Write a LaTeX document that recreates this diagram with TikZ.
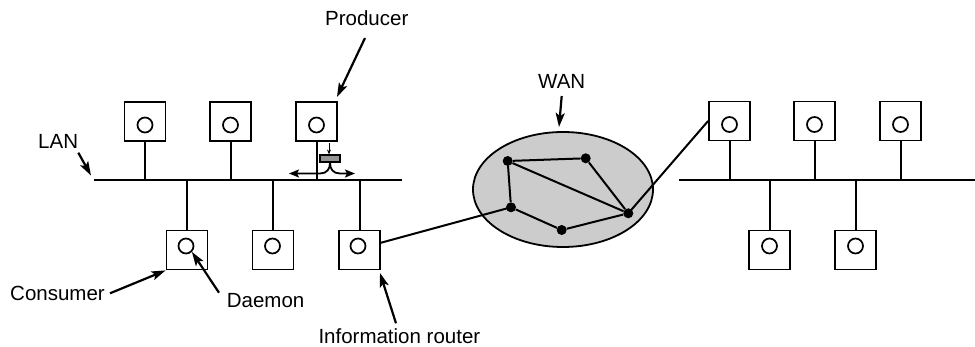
\documentclass[tikz,border=0pt]{standalone}
\usepackage{fontspec}
\setmainfont{Liberation Sans}
\usetikzlibrary{arrows.meta,shapes.geometric}
\begin{document}
\begin{tikzpicture}[x=1pt,y=-1pt,
  host/.style={draw,line width=1.8pt,minimum width=41pt,minimum height=39pt,inner sep=0pt},
  daemon/.style={draw,circle,line width=1.7pt,minimum size=15pt,inner sep=0pt},
  wire/.style={line width=2pt},
  lbl/.style={font=\fontsize{20.5}{24}\selectfont,inner sep=0pt},
  ptr/.style={line width=2.2pt,-{Stealth[length=14pt,width=9pt,inset=3pt]}},
  smallptr/.style={line width=1.8pt,-{Stealth[length=10pt,width=8pt,inset=2pt]}},
  dot/.style={circle,fill=black,minimum size=10pt,inner sep=0pt},
  msg/.style={draw,line width=1.2pt,fill=gray!85!white,minimum width=20pt,minimum height=7pt,inner sep=0pt},
  cloud/.style={ellipse,draw,line width=1.8pt,fill=gray!40,minimum width=180pt,minimum height=115pt,inner sep=0pt}
]
\useasboundingbox (0,0) rectangle (975,347);

% ---------- left LAN ----------
\coordinate (lanLa) at (94,180.5);
\coordinate (lanLb) at (402,180.5);
\draw[wire] (lanLa) -- (lanLb);

\node[host] (p1) at (145,121.5) {};
\node[host] (p2) at (230.5,121.5) {};
\node[host] (p3) at (316.5,121.5) {};
\node[host] (c1) at (187,250) {};
\node[host] (c2) at (273,250) {};
\node[host] (r3) at (359.5,250) {};

\node[daemon] (dp1) at (145,125) {};
\node[daemon] (dp2) at (230.5,125) {};
\node[daemon] (dp3) at (316.5,125) {};
\node[daemon] (dc1) at (186,246) {};
\node[daemon] (dc2) at (272.5,246) {};
\node[daemon] (dr3) at (358,246) {};

\foreach \n in {p1,p2,p3} \draw[wire] (\n.south) -- (\n.south |- lanLa);
\foreach \n in {c1,c2,r3} \draw[wire] (\n.north) -- (\n.north |- lanLa);

% producer message
\node[msg] (g) at (330,158.6) {};
\coordinate (gsrc) at (329,143);
\draw[line width=1pt,-{Stealth[length=5pt,width=4pt]}] (gsrc) -- (g.north -| gsrc);
\coordinate (gl) at (289,173.5);
\coordinate (gr) at (355,173.5);
\draw[smallptr] (g.south) .. controls (330,169) and (327,173.5) .. (320,173.5) -- (gl);
\draw[smallptr] (g.south) .. controls (330,169) and (333,173.5) .. (340,173.5) -- (gr);

% ---------- right LAN ----------
\coordinate (lanRa) at (679,180.5);
\coordinate (lanRb) at (975,180.5);
\draw[wire] (lanRa) -- (lanRb);

\node[host] (q1) at (729.5,121) {};
\node[host] (q2) at (814.5,121) {};
\node[host] (q3) at (900.5,121) {};
\node[host] (s1) at (769.5,250) {};
\node[host] (s2) at (855.5,250) {};

\node[daemon] (dq1) at (729.5,124.5) {};
\node[daemon] (dq2) at (814.5,124.5) {};
\node[daemon] (dq3) at (900.5,124.5) {};
\node[daemon] (ds1) at (769.5,246) {};
\node[daemon] (ds2) at (855.5,246) {};

\foreach \n in {q1,q2,q3} \draw[wire] (\n.south) -- (\n.south |- lanRa);
\foreach \n in {s1,s2} \draw[wire] (\n.north) -- (\n.north |- lanRa);

% ---------- WAN ----------
\node[cloud] (wan) at (563,189.5) {};
\node[dot] (wa) at (507.7,161) {};
\node[dot] (wb) at (585.7,158.3) {};
\node[dot] (wc) at (511,207.3) {};
\node[dot] (wd) at (561.7,230) {};
\node[dot] (we) at (628.3,213.3) {};
\draw[wire] (wa) -- (wb) -- (we) -- (wa) -- (wc) -- (wd) -- (we);

\coordinate (r3in) at (380,243);
\draw[wire] (wc.center) -- (r3in);
\draw[wire] (we.center) -- (q1.west);

% ---------- labels ----------
\node[lbl,anchor=base west] (prod) at (325,26) {Producer};
\coordinate (prodtail) at (365,38);
\coordinate (prodtip) at (337,97);
\draw[ptr] (prodtail) -- (prodtip);

\node[lbl,anchor=base west] (wanl) at (538,88.3) {WAN};
\coordinate (wantail) at (561.7,96);
\coordinate (wantip) at (559,127);
\draw[ptr] (wantail) -- (wantip);

\node[lbl,anchor=base west] (lanl) at (38,148.3) {LAN};
\coordinate (lantail) at (78.3,152.7);
\coordinate (lantip) at (91,175.5);
\draw[ptr] (lantail) -- (lantip);

\node[lbl,anchor=base west] (cons) at (10,301) {Consumer};
\coordinate (constail) at (110,293.3);
\draw[ptr] (constail) -- (c1.south west);

\node[lbl,anchor=base west] (daem) at (226.7,307.3) {Daemon};
\coordinate (daemtail) at (219,292.7);
\draw[ptr] (daemtail) -- (dc1.-45);

\node[lbl,anchor=base west] (irl) at (318.3,343.3) {Information router};
\coordinate (irtail) at (396,323.3);
\coordinate (irtip) at (380,273);
\draw[ptr] (irtail) -- (irtip);
\end{tikzpicture}
\end{document}
